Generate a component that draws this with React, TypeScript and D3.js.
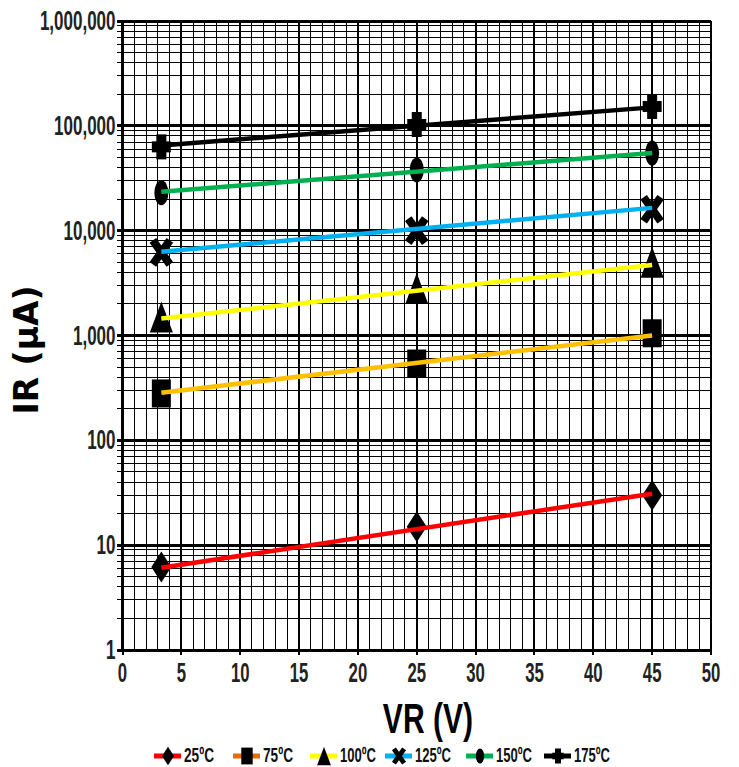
import React from 'react';
import * as d3 from 'd3';

// reverse voltage points (V)
const vr = [3.3, 25, 45];
const temps = ['25ºC', '75ºC', '100ºC', '125ºC', '150ºC', '175ºC'];

// measured IR (µA) at each VR
const ir25 = [6.2, 15, 30];
const ir75 = [280, 540, 1050];
const ir100 = [1500, 2800, 5000];
const ir125 = [6200, 10000, 16000];
const ir150 = [23000, 38000, 55000];
const ir175 = [63000, 103000, 153000];

// trend line end values at first / last VR
const trendVr = [3.3, 45];
const trend25 = [6.1, 31];
const trend75 = [285, 1000];
const trend100 = [1450, 4700];
const trend125 = [6300, 16500];
const trend150 = [23500, 55000];
const trend175 = [65000, 150000];

const xTicks = [0, 5, 10, 15, 20, 25, 30, 35, 40, 45, 50];
const yTicks = [1, 10, 100, 1000, 10000, 100000, 1000000];

const lineColors = ['#ff0000', '#ffc000', '#ffff00', '#00b0f0', '#00b050', '#000000'];
const legendColors = ['#ff0000', '#e46c0a', '#ffff00', '#00b0f0', '#00b050', '#000000'];
const shapes = ['diamond', 'square', 'triangle', 'x', 'circle', 'plus'];

const series = [ir25, ir75, ir100, ir125, ir150, ir175];
const trends = [trend25, trend75, trend100, trend125, trend150, trend175];

const W = 739;
const H = 767;

const x = d3.scaleLinear().domain([0, 50]).range([122.5, 711]);
const y = d3.scaleLog().domain([1, 1e6]).range([650, 21]);

const narrow = "'Liberation Sans', Arial, sans-serif";

const Marker = ({ shape, cx, cy, s = 1 }) => {
  const t = `translate(${cx},${cy}) scale(${s})`;
  switch (shape) {
    case 'diamond':
      return <path transform={t} d="M0,-15.5L10,0L0,15.5L-10,0Z" fill="#000" />;
    case 'square':
      return <rect transform={t} x={-9.5} y={-14} width={19} height={28} fill="#000" />;
    case 'triangle':
      return <path transform={t} d="M0,-15.5L11.5,15.5L-11.5,15.5Z" fill="#000" />;
    case 'x':
      return (
        <g transform={t} stroke="#000" strokeWidth={8}>
          <line x1={-8.5} y1={-12} x2={8.5} y2={12} />
          <line x1={8.5} y1={-12} x2={-8.5} y2={12} />
        </g>
      );
    case 'circle':
      return <ellipse transform={t} rx={7} ry={12.5} fill="#000" />;
    default:
      return (
        <g transform={t} fill="#000">
          <rect x={-5} y={-12.5} width={10} height={25} />
          <rect x={-9.5} y={-5.5} width={19} height={11} />
        </g>
      );
  }
};

export default function App() {
  const minorY = [];
  for (let d = 1; d < 1e6; d *= 10) {
    for (let k = 2; k <= 9; k++) minorY.push(d * k);
  }
  const minorX = d3.range(1, 50).filter(v => v % 5 !== 0);
  const fmt = d3.format(',');

  const legendX = [154, 233, 310, 385, 466, 544];

  return (
    <svg width={W} height={H} style={{ position: 'absolute', left: 0, top: 0 }}>
      <rect width={W} height={H} fill="#fff" />

      {/* minor grid */}
      <g stroke="#000" strokeWidth={1} shapeRendering="crispEdges">
        {minorX.map(v => (
          <line key={'mx' + v} x1={x(v)} x2={x(v)} y1={y(1)} y2={y(1e6)} />
        ))}
        {minorY.map(v => (
          <line key={'my' + v} x1={x(0) - 6} x2={x(50)} y1={y(v)} y2={y(v)} />
        ))}
      </g>

      {/* major grid */}
      <g stroke="#000" shapeRendering="crispEdges">
        {xTicks.map(v => (
          <line key={'gx' + v} x1={x(v)} x2={x(v)} y1={y(1e6)} y2={y(1) + 5} strokeWidth={2} />
        ))}
        {yTicks.map(v => (
          <line key={'gy' + v} x1={x(0) - 6} x2={x(50)} y1={y(v)} y2={y(v)} strokeWidth={3} />
        ))}
        <line x1={x(0)} x2={x(0)} y1={y(1e6) - 1} y2={y(1) + 1} strokeWidth={3} />
      </g>

      {/* tick labels */}
      <g fontFamily={narrow} fontWeight="bold" fontSize={27} fill="#222">
        {yTicks.map(v => (
          <text key={'ly' + v} transform={`translate(${x(0) - 7},${y(v) + 9}) scale(0.63,1)`} textAnchor="end">
            {fmt(v)}
          </text>
        ))}
        {xTicks.map(v => (
          <text key={'lx' + v} transform={`translate(${x(v)},${y(1) + 32}) scale(0.62,1)`} textAnchor="middle">
            {v}
          </text>
        ))}
      </g>

      {/* markers */}
      {series.map((vals, i) =>
        vals.map((v, j) => <Marker key={`m${i}-${j}`} shape={shapes[i]} cx={x(vr[j])} cy={y(v)} />)
      )}

      {/* trend lines */}
      {trends.map((tv, i) => (
        <line
          key={'t' + i}
          x1={x(trendVr[0])}
          y1={y(tv[0])}
          x2={x(trendVr[1])}
          y2={y(tv[1])}
          stroke={lineColors[i]}
          strokeWidth={4.5}
        />
      ))}

      {/* axis titles */}
      <text
        transform={`translate(38,350) rotate(-90)`}
        textAnchor="middle"
        fontFamily="'DejaVu Sans', sans-serif"
        fontWeight="bold"
        fontSize={33}
        fill="#000"
      >
        IR (µA)
      </text>
      <text
        transform={`translate(428,733) scale(0.7,1)`}
        textAnchor="middle"
        fontFamily={narrow}
        fontWeight="bold"
        fontSize={43}
        fill="#000"
      >
        VR (V)
      </text>

      {/* legend */}
      {temps.map((t, i) => (
        <g key={'lg' + i}>
          <line x1={legendX[i]} x2={legendX[i] + 27} y1={756} y2={756} stroke={legendColors[i]} strokeWidth={5} />
          <Marker shape={shapes[i]} cx={legendX[i] + 14} cy={756} s={0.6} />
          <text
            x={legendX[i] + 30}
            y={762}
            textLength={t.length > 4 ? 36 : 30}
            lengthAdjust="spacingAndGlyphs"
            fontFamily={narrow}
            fontWeight="bold"
            fontSize={20}
            fill="#111"
          >
            {t}
          </text>
        </g>
      ))}
    </svg>
  );
}
